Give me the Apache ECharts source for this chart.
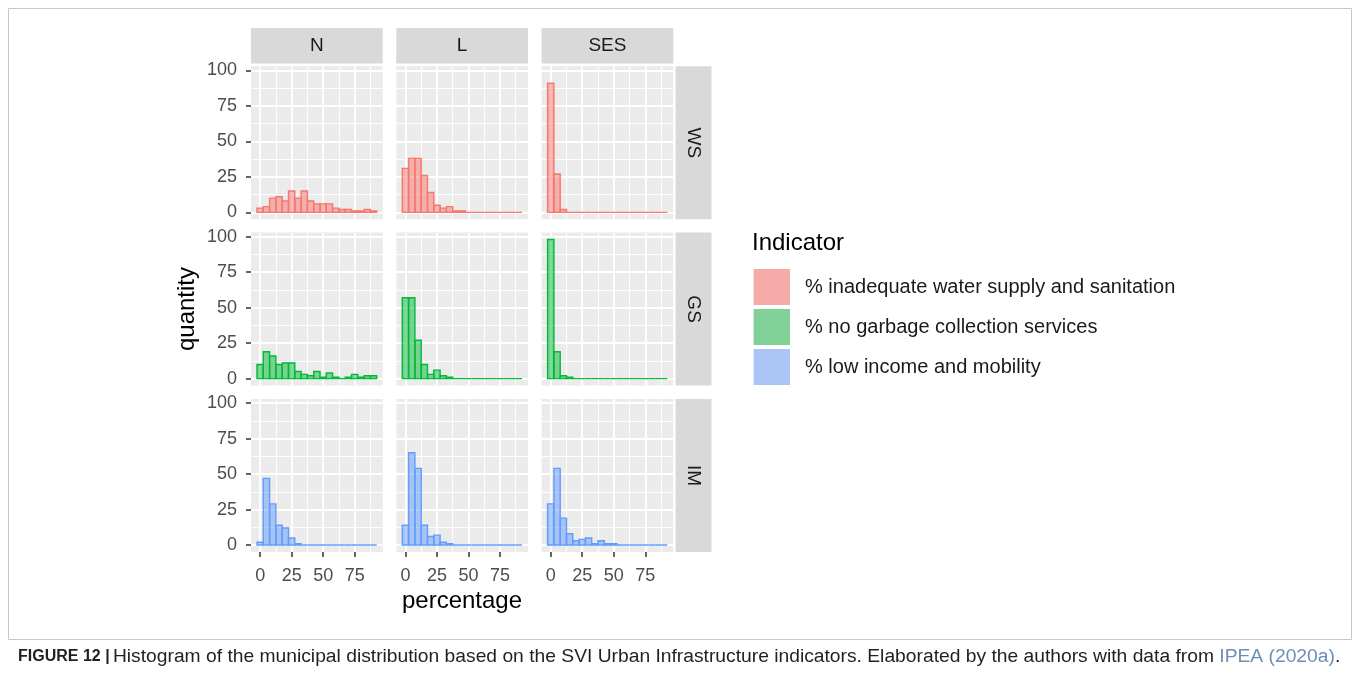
<!DOCTYPE html>
<html><head><meta charset="utf-8">
<script src="https://cdn.jsdelivr.net/npm/echarts@6/dist/echarts.min.js"></script>
<style>html,body{margin:0;padding:0;background:#fff}#chart{width:1360px;height:678px}</style>
</head><body><div id="chart"></div>
<script>
// ---- data ----
const bins = [0, 5, 10, 15, 20, 25, 30, 35, 40, 45, 50, 55, 60, 65, 70, 75, 80, 85, 90];
const columns = ['N', 'L', 'SES'];
const rows = ['WS', 'GS', 'IM'];
const indicators = ['% inadequate water supply and sanitation', '% no garbage collection services', '% low income and mobility'];

const wsN   = [3, 4, 10, 11, 8, 15, 10, 15, 8, 6, 6, 6, 3, 2, 2, 1, 1, 2, 1];
const wsL   = [31, 38, 38, 26, 14, 5, 3, 4, 1, 1, 0, 0, 0, 0, 0, 0, 0, 0, 0];
const wsSES = [91, 27, 2, 0, 0, 0, 0, 0, 0, 0, 0, 0, 0, 0, 0, 0, 0, 0, 0];
const gsN   = [10, 19, 16, 10, 11, 11, 5, 3, 2, 5, 1, 4, 1, 0, 1, 3, 1, 2, 2];
const gsL   = [57, 57, 27, 10, 3, 6, 2, 1, 0, 0, 0, 0, 0, 0, 0, 0, 0, 0, 0];
const gsSES = [98, 19, 2, 1, 0, 0, 0, 0, 0, 0, 0, 0, 0, 0, 0, 0, 0, 0, 0];
const imN   = [2, 47, 29, 14, 12, 5, 1, 0, 0, 0, 0, 0, 0, 0, 0, 0, 0, 0, 0];
const imL   = [14, 65, 54, 14, 6, 7, 2, 1, 0, 0, 0, 0, 0, 0, 0, 0, 0, 0, 0];
const imSES = [29, 54, 19, 8, 3, 4, 5, 1, 3, 1, 1, 0, 0, 0, 0, 0, 0, 0, 0];

const xTickLabels = [0, 25, 50, 75];
const yTickLabels = [0, 25, 50, 75, 100];
const xMinor = [12.5, 37.5, 62.5, 87.5];
const yMinor = [12.5, 37.5, 62.5, 87.5];

const panelValues = [[wsN, wsL, wsSES], [gsN, gsL, gsSES], [imN, imL, imSES]];

// ---- styling / layout ----
const FONT = "'Liberation Sans', Arial, Helvetica, sans-serif";
const lineColors = ['#F8766D', '#00BA38', '#619CFF'];
const fillColors = ['rgba(248,118,109,0.5)', 'rgba(0,186,56,0.5)', 'rgba(97,156,255,0.5)'];
const keyColors = ['#F4AAA6', '#80D098', '#ABC6F6'];
const BIN = 5;
const X_MIN = -7.25, X_MAX = 97.25, Y_MIN = -4.9, Y_MAX = 102.9;
const colLeft = [251, 396.3, 541.6];
const rowTop = [66.3, 232.6, 399];
const PW = 131.7, PH = 153;

const grids = [], xAxes = [], yAxes = [], series = [], graphics = [];

rows.forEach((rname, r) => {
  columns.forEach((cname, c) => {
    const i = r * 3 + c;
    const bottom = r === rows.length - 1, left = c === 0;
    grids.push({left: colLeft[c], top: rowTop[r], width: PW, height: PH, show: true,
      backgroundColor: '#EBEBEB', borderWidth: 0, containLabel: false});
    xAxes.push({type: 'value', gridIndex: i, min: X_MIN, max: X_MAX, position: 'bottom',
      axisLine: {show: bottom, onZero: false, lineStyle: {color: 'rgba(0,0,0,0)', width: 0}}, splitLine: {show: false},
      axisTick: {show: bottom, customValues: xTickLabels, length: 5, lineStyle: {color: '#333333', width: 1.5}},
      axisLabel: {show: bottom, customValues: xTickLabels, fontSize: 18, color: '#4D4D4D', fontFamily: FONT, margin: 15}});
    yAxes.push({type: 'value', gridIndex: i, min: Y_MIN, max: Y_MAX, position: 'left',
      axisLine: {show: left, onZero: false, lineStyle: {color: 'rgba(0,0,0,0)', width: 0}}, splitLine: {show: false},
      axisTick: {show: left, customValues: yTickLabels, length: 5, lineStyle: {color: '#333333', width: 1.5}},
      axisLabel: {show: left, customValues: yTickLabels, fontSize: 18, color: '#4D4D4D', fontFamily: FONT, margin: 14}});
    const ml = [];
    xTickLabels.forEach(v => ml.push({xAxis: v, lineStyle: {width: 1.8}}));
    xMinor.forEach(v => ml.push({xAxis: v, lineStyle: {width: 0.9}}));
    yTickLabels.forEach(v => ml.push({yAxis: v, lineStyle: {width: 1.8}}));
    yMinor.forEach(v => ml.push({yAxis: v, lineStyle: {width: 0.9}}));
    series.push({type: 'line', name: 'grid' + i, xAxisIndex: i, yAxisIndex: i, data: [], silent: true, z: 1,
      markLine: {z: 1, silent: true, symbol: ['none', 'none'], label: {show: false}, animation: false,
        lineStyle: {color: '#FFFFFF', type: 'solid'}, emphasis: {disabled: true}, data: ml}});
    const vals = panelValues[r][c];
    series.push({type: 'custom', name: indicators[r], xAxisIndex: i, yAxisIndex: i, z: 3,
      itemStyle: {color: keyColors[r]},
      data: bins.map((b, k) => [b, vals[k]]),
      encode: {x: 0, y: 1},
      renderItem: (params, api) => {
        const x = api.value(0), y = api.value(1);
        const p0 = api.coord([x - BIN / 2, y]);
        const p1 = api.coord([x + BIN / 2, 0]);
        return {type: 'rect', shape: {x: p0[0], y: p0[1], width: p1[0] - p0[0], height: p1[1] - p0[1]},
          style: {fill: fillColors[r], stroke: lineColors[r], lineWidth: 1.4}};
      }});
  });
});

// strips
columns.forEach((cname, c) => {
  graphics.push({type: 'rect', shape: {x: colLeft[c], y: 28, width: PW, height: 35.5}, style: {fill: '#D9D9D9'}, silent: true});
  graphics.push({type: 'text', x: colLeft[c] + PW / 2, y: 46, style: {text: cname, fill: '#1A1A1A', font: '19px ' + FONT, align: 'center', verticalAlign: 'middle'}});
});
rows.forEach((rname, r) => {
  graphics.push({type: 'rect', shape: {x: 675.5, y: rowTop[r], width: 36, height: PH}, style: {fill: '#D9D9D9'}, silent: true});
  graphics.push({type: 'text', x: 693.5, y: rowTop[r] + PH / 2, rotation: -Math.PI / 2,
    style: {text: rname, fill: '#1A1A1A', font: '19px ' + FONT, align: 'center', verticalAlign: 'middle'}});
});
// axis titles
graphics.push({type: 'text', x: 462, y: 601, style: {text: 'percentage', fill: '#000', font: '24px ' + FONT, align: 'center', verticalAlign: 'middle'}});
graphics.push({type: 'text', x: 187, y: 309, rotation: Math.PI / 2, style: {text: 'quantity', fill: '#000', font: '24px ' + FONT, align: 'center', verticalAlign: 'middle'}});
// legend title
graphics.push({type: 'text', x: 752, y: 243, style: {text: 'Indicator', fill: '#000', font: '24px ' + FONT, align: 'left', verticalAlign: 'middle'}});
// frame
graphics.push({type: 'rect', shape: {x: 8.5, y: 8.5, width: 1343, height: 631}, style: {fill: 'none', stroke: '#C8C8C8', lineWidth: 1}, silent: true});
// caption
graphics.push({type: 'text', x: 18, y: 657, style: {
  text: '{b|FIGURE 12 |} {n|Histogram of the municipal distribution based on the SVI Urban Infrastructure indicators. Elaborated by the authors with data from }{l|IPEA (2020a)}{n|.}',
  verticalAlign: 'middle',
  rich: {
    b: {font: 'bold 16px ' + FONT, fill: '#231F20'},
    n: {font: '19.25px ' + FONT, fill: '#231F20'},
    l: {font: '19.25px ' + FONT, fill: '#6C8FB8'}
  }}});

const chart = echarts.init(document.getElementById('chart'), null, {renderer: 'canvas'});
chart.setOption({
  animation: false,
  backgroundColor: '#FFFFFF',
  grid: grids, xAxis: xAxes, yAxis: yAxes, series: series,
  legend: {
    orient: 'vertical', left: 753.6, top: 269, padding: 0, itemWidth: 36.4, itemHeight: 36, itemGap: 4, icon: 'rect',
    selectedMode: false,
    textStyle: {fontSize: 20, color: '#1A1A1A', fontFamily: FONT, padding: [0, 0, 0, 10]},
    data: indicators.map((n, k) => ({name: n, itemStyle: {color: keyColors[k], borderWidth: 0}}))
  },
  graphic: graphics
});
</script></body></html>
